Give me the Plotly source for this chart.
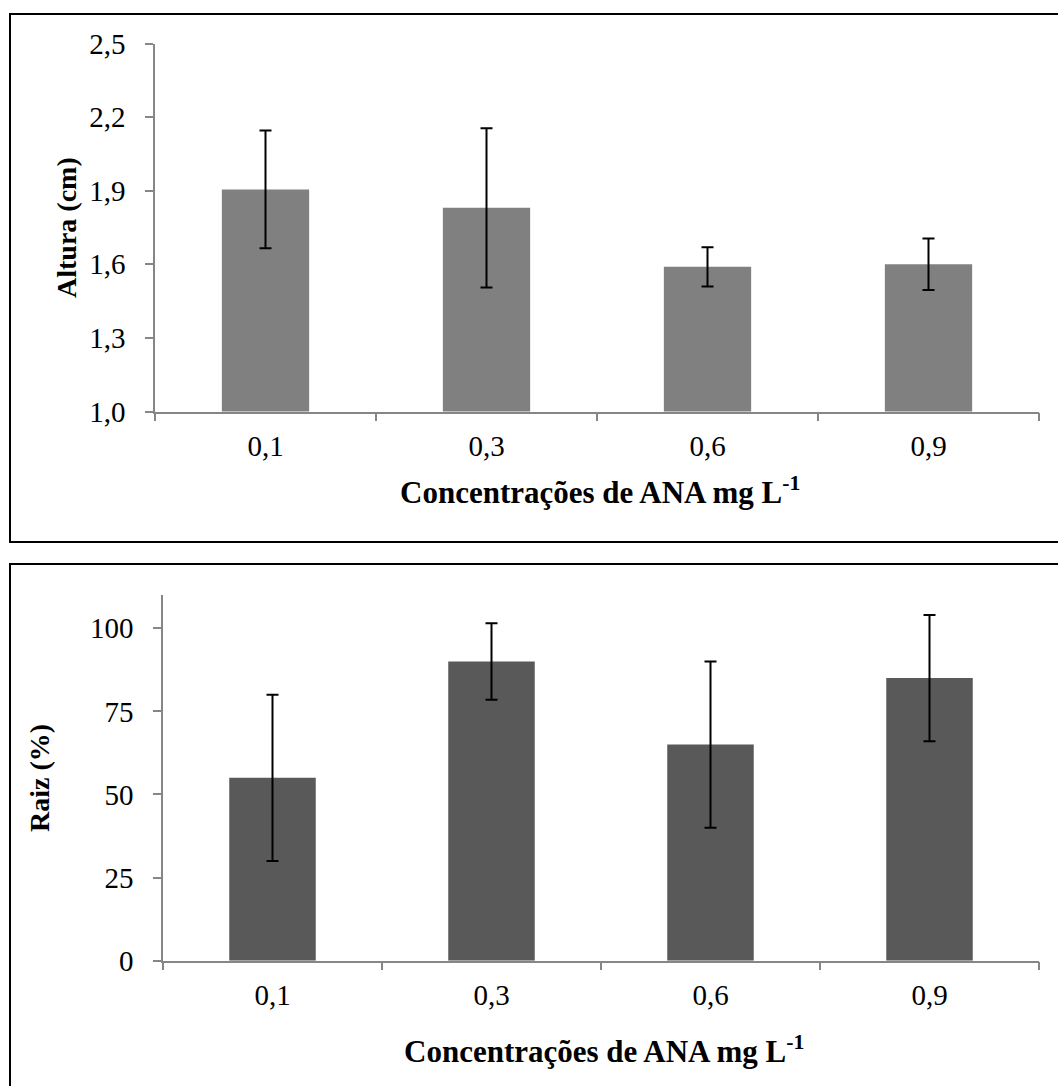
import plotly.graph_objects as go

categories = ["0,1", "0,3", "0,6", "0,9"]
altura = [1.905, 1.83, 1.59, 1.60]
altura_err = [0.24, 0.325, 0.08, 0.105]
raiz = [55, 90, 65, 85]
raiz_err = [25, 11.5, 25, 19]
altura_ticks = [1.0, 1.3, 1.6, 1.9, 2.2, 2.5]
raiz_ticks = [0, 25, 50, 75, 100]

W, H = 1058, 1086
FONT = "Liberation Serif"
AXC = "#868686"

def px(x):
    return x / W

def py(y):
    return 1 - y / H

fig = go.Figure()
fig.add_trace(go.Bar(
    x=categories, y=altura, xaxis="x", yaxis="y",
    marker=dict(color="#808080", line=dict(width=0)),
    error_y=dict(type="data", array=altura_err, visible=True,
                 color="black", thickness=2, width=6),
))
fig.add_trace(go.Bar(
    x=categories, y=raiz, xaxis="x2", yaxis="y2",
    marker=dict(color="#595959", line=dict(width=0)),
    error_y=dict(type="data", array=raiz_err, visible=True,
                 color="black", thickness=2, width=6),
))

common_x = dict(type="category", range=[-0.5, 3.5], showline=True, linecolor=AXC,
                linewidth=1.5, ticks="outside", ticklen=8, tickcolor=AXC, tickwidth=1.5,
                tickson="boundaries", showgrid=False, zeroline=False, automargin=False,
                ticklabelstandoff=8,
                tickfont=dict(family=FONT, size=29, color="black"))
common_y = dict(showline=True, linecolor=AXC, linewidth=1.5, ticks="outside",
                ticklen=8, tickcolor=AXC, tickwidth=1.5, showgrid=False, zeroline=False,
                automargin=False,
                tickfont=dict(family=FONT, size=29, color="black"), ticklabelstandoff=14)

fig.update_layout(
    width=W, height=H, autosize=False,
    margin=dict(l=0, r=0, t=0, b=0, pad=0, autoexpand=False),
    paper_bgcolor="white", plot_bgcolor="white", showlegend=False,
    separators=",.", bargap=0.605,
    xaxis=dict(domain=[px(155), px(1039)], anchor="y", **common_x),
    yaxis=dict(domain=[py(411.5), py(43.5)], anchor="x", range=[1.0, 2.5],
               tickvals=altura_ticks, tickformat=".1f", **common_y),
    xaxis2=dict(domain=[px(163), px(1039)], anchor="y2", **common_x),
    yaxis2=dict(domain=[py(960.7), py(595)], anchor="x2", range=[0, 110],
                tickvals=raiz_ticks, **common_y),
)

fig.add_shape(type="rect", xref="paper", yref="paper",
              x0=px(10), x1=px(1070), y0=py(542), y1=py(14),
              line=dict(color="black", width=2), fillcolor="rgba(0,0,0,0)")
fig.add_shape(type="rect", xref="paper", yref="paper",
              x0=px(10), x1=px(1070), y0=py(1100), y1=py(564),
              line=dict(color="black", width=2), fillcolor="rgba(0,0,0,0)")

xtitle_font = dict(family=FONT, size=31, color="black")
ytitle_font = dict(family=FONT, size=28, color="black")
fig.add_annotation(text="<b>Concentrações de ANA mg L<sup>-1</sup></b>", xref="paper", yref="paper",
                   x=px(600), y=py(490), showarrow=False, font=xtitle_font,
                   xanchor="center", yanchor="middle")
fig.add_annotation(text="<b>Concentrações de ANA mg L<sup>-1</sup></b>", xref="paper", yref="paper",
                   x=px(604), y=py(1049), showarrow=False, font=xtitle_font,
                   xanchor="center", yanchor="middle")
fig.add_annotation(text="<b>Altura (cm)</b>", xref="paper", yref="paper",
                   x=px(66), y=py(228), showarrow=False, font=ytitle_font, textangle=-90,
                   xanchor="center", yanchor="middle")
fig.add_annotation(text="<b>Raiz (%)</b>", xref="paper", yref="paper",
                   x=px(40), y=py(778), showarrow=False, font=ytitle_font, textangle=-90,
                   xanchor="center", yanchor="middle")

fig.write_html("out.html", config={"displayModeBar": False},
               post_script="document.body.style.margin='0';document.body.style.overflow='hidden';")
